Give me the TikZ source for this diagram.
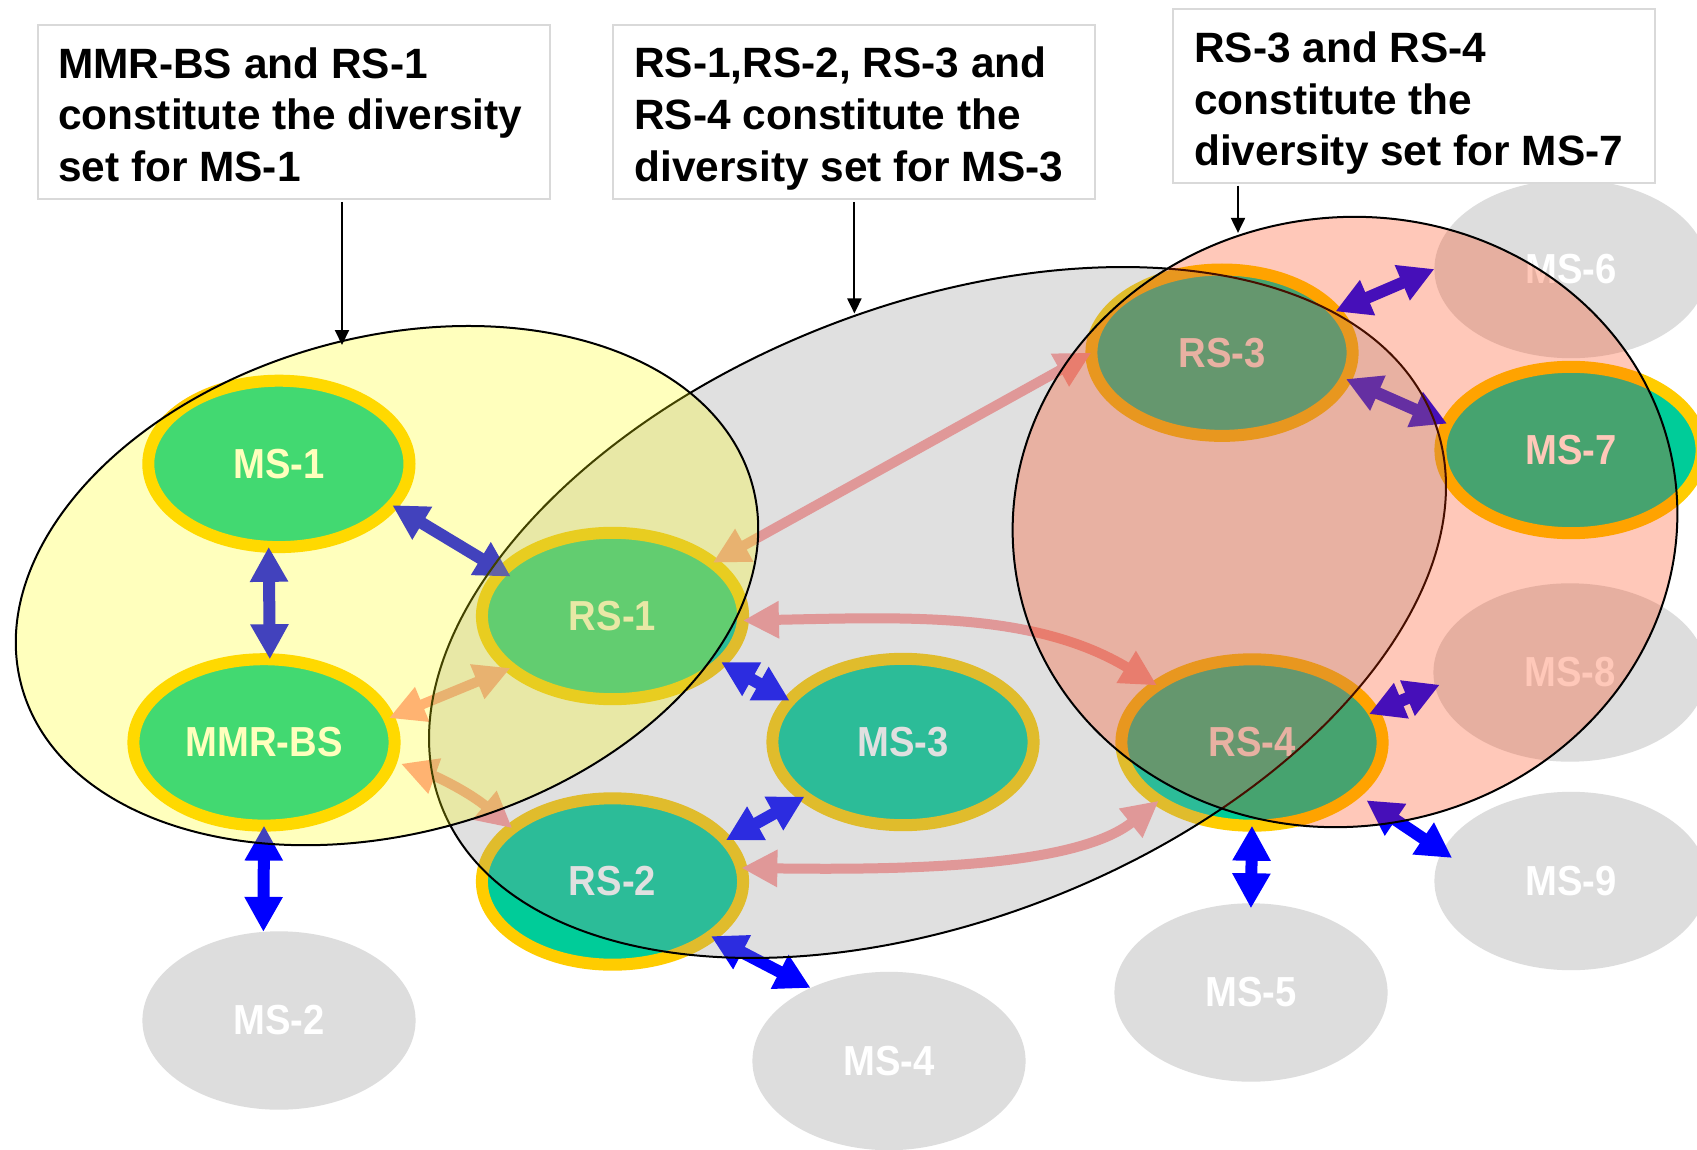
\documentclass[tikz,border=0pt]{standalone}
\usepackage{fontspec}
\setmainfont{Liberation Sans}
\newfontfamily\dsnarrow{Liberation Sans}[FakeStretch=0.91]
\usetikzlibrary{arrows.meta,shapes.geometric}
\definecolor{tealc}{HTML}{00CC99}
\definecolor{ringc}{HTML}{FFCC00}
\definecolor{msgray}{HTML}{DDDDDD}
\definecolor{pinkc}{HTML}{FF9999}
\definecolor{ovgray}{RGB}{150,150,150}
\definecolor{ovyellow}{RGB}{255,255,0}
\definecolor{ovpink}{RGB}{255,55,0}
\definecolor{boxline}{HTML}{D9D9D9}
\newcommand{\dsnodefont}{\dsnarrow\fontsize{42pt}{50pt}\selectfont\bfseries}
\newcommand{\dsboxfont}{\fontsize{42.4pt}{51.6pt}\selectfont\bfseries}
\newcommand{\dsboxtext}[5]{\hspace*{#1}\parbox[t][#2][t]{#3}{\raggedright\noindent\rule{0pt}{53.3pt}#4\\#5}}
\tikzset{
  ringnode/.style={ellipse, draw=ringc, line width=12pt, fill=tealc,
    minimum width=261.2pt, minimum height=166.4pt, inner sep=0pt, outer sep=0pt,
    text=white, font=\dsnodefont},
  graynode/.style={ellipse, fill=msgray, minimum width=273.2pt, minimum height=178.4pt,
    inner sep=0pt, outer sep=0pt, text=white, font=\dsnodefont},
  bluearrow/.style={draw=blue, line width=12pt,
    {Triangle[width=36pt,length=35pt]}-{Triangle[width=36pt,length=35pt]}},
  pinkarrow/.style={draw=pinkc, line width=10pt,
    {Triangle[width=35pt,length=36pt]}-{Triangle[width=35pt,length=36pt]}},
  setellipse/.style={draw=black, line width=2pt},
  infobox/.style={draw=boxline, line width=2pt, fill=white, inner sep=0pt,
    outer sep=0pt, anchor=north west, text=black, font=\dsboxfont},
  pointer/.style={draw=black, line width=2pt, -{Triangle[width=14pt,length=15pt]}},
}
\begin{document}
\begin{tikzpicture}[x=1pt,y=-1pt]
\useasboundingbox (0,0) rectangle (1697,1150);
\clip (0,0) rectangle (1697,1150);
\fill[white] (0,0) rectangle (1697,1150);

% ---- station nodes
\node[ringnode] (ms1) at (278.9,463.9) {MS-1};
\node[ringnode] (mmr) at (264,742.4) {MMR-BS};
\node[graynode] (ms2) at (279,1020.5) {MS-2};
\node[ringnode] (rs1) at (612.5,616) {RS-1};
\node[ringnode] (rs2) at (612.5,881.5) {RS-2};
\node[ringnode] (ms3) at (903,742) {MS-3};
\node[graynode] (ms4) at (889,1061) {MS-4};
\node[ringnode] (rs3) at (1222,352.7) {RS-3};
\node[ringnode] (rs4) at (1252,742.5) {RS-4};
\node[graynode] (ms5) at (1251,992.5) {MS-5};
\node[graynode] (ms6) at (1571,269) {MS-6};
\node[ringnode] (ms7) at (1571,450) {MS-7};
\node[graynode] (ms8) at (1570,672.5) {MS-8};
\node[graynode] (ms9) at (1571,881) {MS-9};

% ---- blue links
\draw[bluearrow] (ms1.263) -- (mmr.86.5);
\draw[bluearrow, shorten >=-10pt] (ms1.340) -- (rs1.158.5);
\draw[bluearrow] (mmr.270) -- (ms2.100);
\draw[bluearrow] (rs1.337) -- (ms3.160);
\draw[bluearrow] (rs2.20) -- (ms3.209);
\draw[bluearrow] (rs2.331) -- (ms4.137);
\draw[bluearrow] (rs3.20) -- (ms6.180);
\draw[bluearrow] (rs3.348) -- (ms7.168);
\draw[bluearrow, shorten <=-5pt, shorten >=-5pt] (rs4.14) -- (ms8.186);
\draw[bluearrow, shorten <=13pt, shorten >=-12pt] (rs4.334) -- (ms9.167);
\draw[bluearrow, shorten >=-5pt] (rs4.270) -- (ms5.90);

% ---- relay links
\draw[pinkarrow] (rs1.28) -- (rs3.180);
\draw[pinkarrow] (mmr.11) -- (rs1.207);
\draw[pinkarrow, shorten <=10pt] (mmr.352) .. controls (440,778) and (470,793) .. (rs2.152);
\draw[pinkarrow] (rs1.358) .. controls (910,617) and (1035,612) .. (rs4.149);
\draw[pinkarrow] (rs2.6) .. controls (900,870) and (1075,868) .. (rs4.212);

% ---- diversity sets
\draw[setellipse, fill=ovgray, fill opacity=0.295, rotate around={21.35:(937.5,612.5)}]
  (937.5,612.5) ellipse [x radius=532.5pt, y radius=307pt];
\draw[setellipse, fill=ovyellow, fill opacity=0.26, rotate around={15.5:(387,585.6)}]
  (387,585.6) ellipse [x radius=379pt, y radius=248pt];
\draw[setellipse, fill=ovpink, fill opacity=0.275, rotate around={9:(1345,522)}]
  (1345,522) ellipse [x radius=333pt, y radius=304.4pt];

% ---- callout boxes
\node[infobox] (box1) at (37.8,25)
  {\dsboxtext{20.2pt}{174pt}{492pt}{MMR-BS and RS-1}{constitute the diversity\\set for MS-1}};
\node[infobox] (box2) at (613.4,24.6)
  {\dsboxtext{20.9pt}{174.4pt}{461pt}{RS-1,RS-2, RS-3 and}{RS-4 constitute the\\diversity set for MS-3}};
\node[infobox] (box3) at (1173.3,9.2)
  {\dsboxtext{20.9pt}{173.4pt}{460.6pt}{RS-3 and RS-4}{constitute the\\diversity set for MS-7}};

\coordinate (p1) at (342,345);
\coordinate (p2) at (854.4,313.5);
\coordinate (p3) at (1238,232.9);
\draw[pointer, shorten <=3pt] (box1.south -| p1) -- (p1);
\draw[pointer, shorten <=3pt] (box2.south -| p2) -- (p2);
\draw[pointer, shorten <=3pt] (box3.south -| p3) -- (p3);
\end{tikzpicture}
\end{document}
